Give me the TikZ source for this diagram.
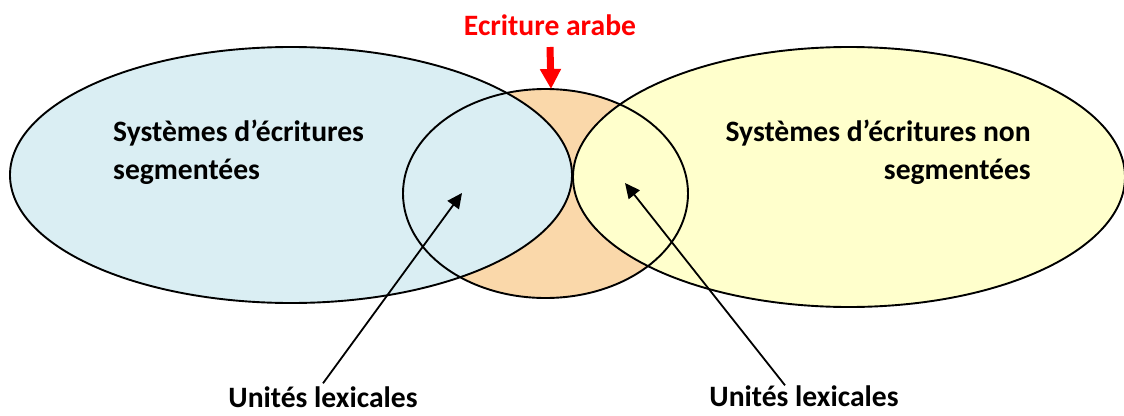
\documentclass[tikz,border=0pt]{standalone}
\usepackage{fontspec}
\setmainfont{Carlito}
\usetikzlibrary{arrows.meta,positioning}
\definecolor{segblue}{HTML}{DAEEF3}
\definecolor{nonsegyellow}{HTML}{FFFFCC}
\definecolor{arabeorange}{HTML}{FAD8AA}
\tikzset{
  lbl/.style={font=\fontsize{29.6}{38}\selectfont\bfseries, inner sep=0pt},
  ptr/.style={-{Triangle[length=15pt,width=14pt]}, line width=1.8pt},
}
\begin{document}
\begin{tikzpicture}[x=1pt,y=-1pt]
  \useasboundingbox (0,0) rectangle (1124,415);
  \coordinate (L) at (291,175);
  \coordinate (M) at (545.5,193.5);
  \coordinate (R) at (849,177);
  % fills first, outlines on top
  \fill[arabeorange] (M) ellipse [x radius=142.5, y radius=104.5];
  \fill[segblue] (L) ellipse [x radius=281, y radius=128];
  \fill[nonsegyellow] (R) ellipse [x radius=276, y radius=130];
  \begin{scope}[line width=1.9pt]
    \draw (L) ellipse [x radius=281, y radius=128];
    \draw (R) ellipse [x radius=276, y radius=130];
    \draw (M) ellipse [x radius=142.5, y radius=104.5];
  \end{scope}
  % texts
  \node[lbl, align=left, anchor=west] (segtxt) at (113,152) {Systèmes d’écritures\\segmentées};
  \node[lbl, align=right, anchor=east] (nonsegtxt) at (1031,152) {Systèmes d’écritures non\\segmentées};
  \node[lbl, red] (arabetxt) at (550,25) {Ecriture arabe};
  \node[lbl] (lex1) at (323,397) {Unités lexicales};
  \node[lbl] (lex2) at (804,396) {Unités lexicales};
  % arrows
  \coordinate (arabtip) at (551,89);
  \coordinate (tip1) at (462,193);
  \coordinate (tip2) at (625,183);
  \draw[red, line width=7pt, -{Triangle[length=20pt,width=20pt]}] (arabetxt.south |- 0,47) -- (arabtip);
  \draw[ptr] ([yshift=3pt]lex1.north) -- (tip1);
  \draw[ptr] ([xshift=-19pt]lex2.north) -- (tip2);
\end{tikzpicture}
\end{document}
